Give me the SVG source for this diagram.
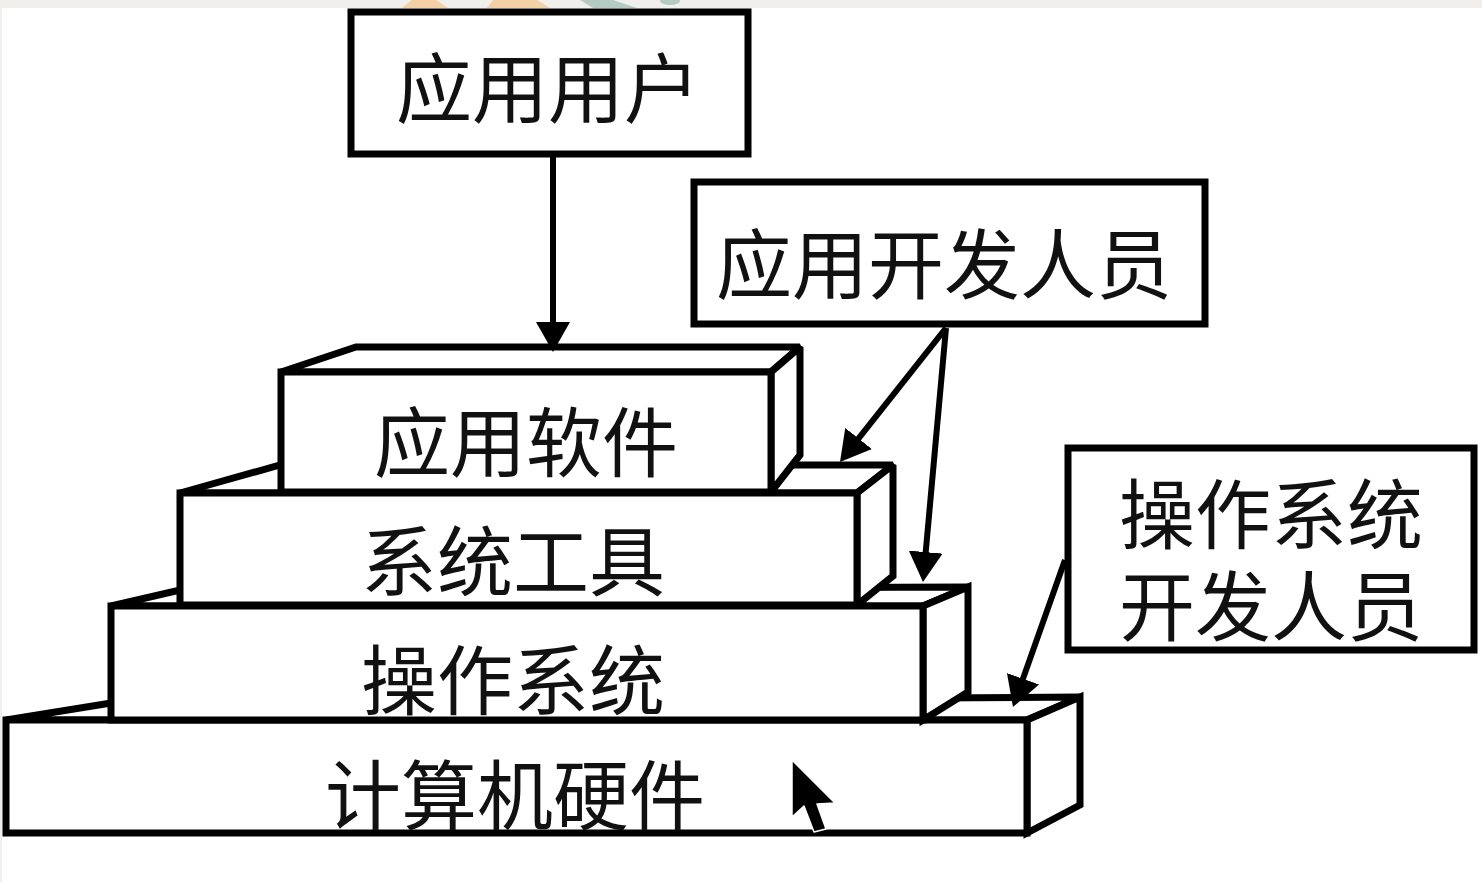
<svg xmlns="http://www.w3.org/2000/svg" width="1482" height="882" viewBox="0 0 1482 882">
<style>
.box{fill:#fff;stroke:#000;stroke-width:7;stroke-linejoin:miter}
.face{fill:#fff;stroke:#000;stroke-width:7;stroke-linejoin:miter;stroke-miterlimit:2.2}
.lbl{font-family:"Noto Sans CJK SC","Noto Sans CJK TC",sans-serif;font-size:76px;fill:#111;text-anchor:middle}
.conn{stroke:#000;stroke-width:6;fill:none;marker-end:url(#ah)}
</style>
<defs>
<marker id="ah" markerUnits="userSpaceOnUse" viewBox="0 0 30 34" refX="20" refY="17" markerWidth="30" markerHeight="34" orient="auto">
<path d="M0,0 L30,17 L0,34 Z" fill="#000"/>
</marker>
</defs>
<rect x="0" y="0" width="1482" height="882" fill="#fff"/>
<g id="backdrop">
<rect x="0" y="0" width="1482" height="8" fill="#f0efeb"/>
<rect x="0" y="0" width="2" height="882" fill="#f0efeb"/>
<polygon points="412,0 436,0 448,8 402,8" fill="#f3d0a5"/>
<polygon points="493,0 537,0 550,8 487,8" fill="#f3d0a5"/>
<polygon points="580,0 613,0 637,8 593,8" fill="#b4cbc3"/>
<ellipse cx="670" cy="1" rx="10" ry="4" fill="#b4cbc3"/>
</g>
<g id="layer-hardware">
<polygon class="face" points="6,720 111,703 1080,697 1027,720"/>
<polygon class="face" points="1027,720 1080,697 1080,805 1027,833"/>
<rect class="box" x="6" y="720" width="1021" height="113"/>
<text class="lbl" x="515" y="824">计算机硬件</text>
</g>
<g id="layer-os">
<polygon class="face" points="111,606 180,590 968,587 923,606"/>
<polygon class="face" points="923,606 968,587 968,692 923,720"/>
<rect class="box" x="111" y="606" width="812" height="114"/>
<text class="lbl" x="513" y="709">操作系统</text>
</g>
<g id="layer-tools">
<polygon class="face" points="180,493 280,465 893,465 857,493"/>
<polygon class="face" points="857,493 893,465 893,576 857,605"/>
<rect class="box" x="180" y="493" width="677" height="112"/>
<text class="lbl" x="513" y="590">系统工具</text>
</g>
<g id="layer-apps">
<polygon class="face" points="281,372 356,347 800,347 771,372"/>
<polygon class="face" points="771,372 800,347 800,455 771,492"/>
<rect class="box" x="281" y="372" width="490" height="120"/>
<text class="lbl" x="526" y="471">应用软件</text>
</g>
<g id="node-app-user">
<rect class="box" x="351" y="12" width="397" height="142"/>
<text class="lbl" x="548" y="117">应用用户</text>
</g>
<g id="node-app-dev">
<rect class="box" x="694" y="182" width="511" height="142"/>
<text class="lbl" x="944" y="293">应用开发人员</text>
</g>
<g id="node-os-dev">
<rect class="box" x="1068" y="448" width="406" height="202"/>
<text class="lbl"><tspan x="1271" y="543">操作系统</tspan><tspan x="1271" y="635">开发人员</tspan></text>
</g>
<g id="connectors">
<line class="conn" x1="553" y1="157" x2="553" y2="342"/>
<line class="conn" x1="946" y1="328" x2="846.2" y2="454.2"/>
<line class="conn" x1="946" y1="328" x2="923.9" y2="572"/>
<line class="conn" x1="1065" y1="560" x2="1016.3" y2="697.6"/>
</g>
<g id="cursor">
<polygon points="792,760 792,817 804,806 814,832 826,829 817,804 835,803" fill="#000" stroke="#fff" stroke-width="1.5" stroke-linejoin="round"/>
</g>
</svg>
